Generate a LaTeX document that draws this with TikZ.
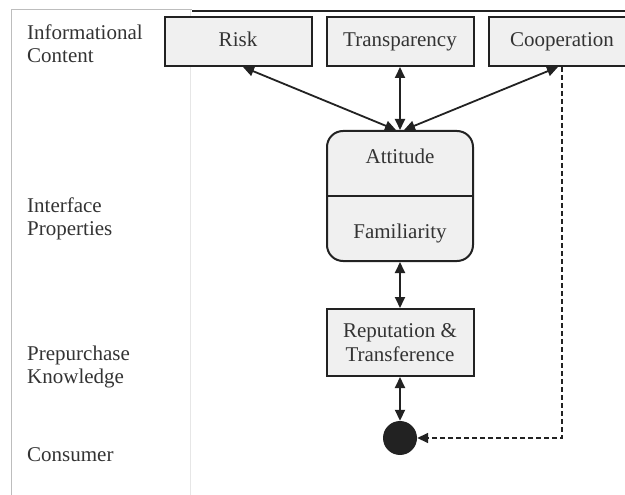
\documentclass[tikz,border=0pt]{standalone}
\usepackage{fontspec}
\setmainfont{Liberation Serif}
\usetikzlibrary{arrows.meta,positioning}
\definecolor{frameGray}{HTML}{BDBDBD}
\definecolor{sepGray}{HTML}{E6E6E6}
\definecolor{boxFill}{HTML}{F0F0F0}
\definecolor{inkCol}{HTML}{222222}
\definecolor{textCol}{HTML}{333333}

\begin{document}
\begin{tikzpicture}[x=1pt,y=-1pt,
  factor/.style={draw=inkCol, fill=boxFill, line width=2pt,
    minimum width=147pt, minimum height=49pt, inner sep=0pt,
    text=textCol, font=\fontsize{21}{23.5}\selectfont, align=center},
  level/.style={anchor=west, align=left, inner sep=0pt,
    text=textCol, font=\fontsize{21}{23.5}\selectfont},
  tag/.style={text=textCol, font=\fontsize{21}{23.5}\selectfont,
    text height=14pt, text depth=4pt},
  link/.style={{Triangle[length=11pt,width=10pt]}-{Triangle[length=11pt,width=10pt]},
    line width=1.8pt, draw=inkCol}]

\useasboundingbox (0,0) rectangle (625,495);

% frame of the table
\draw[sepGray, line width=1pt] (190,10) -- (190,495);
\draw[frameGray, line width=1pt] (11,495) -- (11,10) -- (192,10);
\draw[inkCol, line width=1.5pt] (192,11) -- (625,11);

% level labels
\node[level] (lvInfo) at (27,43.5) {Informational\\Content};
\node[level] (lvIface) at (27,219) {Interface\\Properties};
\node[level] (lvPre) at (27,367) {Prepurchase\\Knowledge};
\node[level] (lvCons) at (27,455) {Consumer};

% informational content
\node[factor, text height=14pt, text depth=4pt] (risk) at (238,41.5) {Risk};
\node[factor, text height=14pt, text depth=4pt] (transp) at (400,41.5) {Transparency};
\node[factor, text height=14pt, text depth=4pt] (coop) at (562,41.5) {Cooperation};

% interface properties
\node[factor, minimum width=146pt, minimum height=130pt, rounded corners=16pt]
  (attfam) at (400,196) {};
\draw[inkCol, line width=1.5pt] (attfam.west) -- (attfam.east);
\node[tag] (att) at (400,159) {Attitude};
\node[tag] (fam) at (400,234) {Familiarity};

% prepurchase knowledge
\node[factor, minimum height=67pt] (repu) at (400,342.5) {Reputation \&\\Transference};

% consumer
\node[circle, fill=inkCol, minimum size=34pt, inner sep=0pt] (consumer) at (400,438) {};

% links
\draw[link] ([xshift=5pt]risk.south) -- ([xshift=-4pt]attfam.north);
\draw[link] (transp.south) -- (attfam.north);
\draw[link] ([xshift=-4pt]coop.south) -- ([xshift=4pt]attfam.north);
\draw[link] (attfam.south) -- (repu.north);
\draw[link] (repu.south) -- (consumer.north);
\draw[line width=1.6pt, draw=inkCol, dash pattern=on 5pt off 3pt,
  -{Triangle[length=11pt,width=10pt]}] (coop.south) |- (consumer.east);

\end{tikzpicture}
\end{document}
